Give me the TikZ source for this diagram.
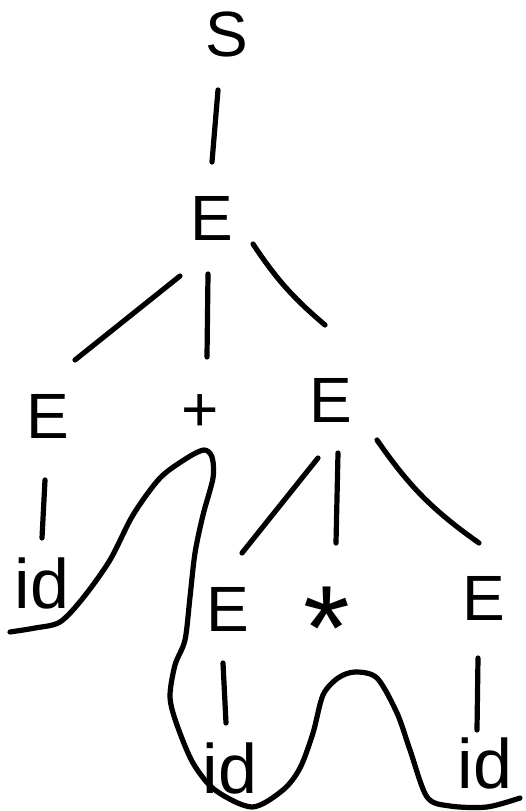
\documentclass[tikz,border=0pt]{standalone}
\usepackage{fontspec}
\setmainfont{Liberation Sans}
\usetikzlibrary{calc}
\tikzset{
  sym/.style={inner sep=0pt, outer sep=0pt, font=\fontsize{64}{64}\selectfont},
  leaf/.style={inner sep=0pt, outer sep=0pt, font=\fontsize{70}{70}\selectfont},
  big/.style={inner sep=0pt, outer sep=0pt, font=\fontsize{120}{120}\selectfont},
  stroke/.style={line width=5.2pt, line cap=round, line join=round, black},
}
\begin{document}
\begin{tikzpicture}[x=1pt, y=-1pt]
\useasboundingbox[fill=white] (0,0) rectangle (526,811);
% nodes
\node[sym] (S) at (227,34) {S};
\node[sym] (E1) at (212,218) {E};
\node[sym] (E2) at (48,416) {E};
\node[sym] (plus) at (200,413) {+};
\node[sym] (E3) at (331,400) {E};
\node[leaf] (id1) at (42,583) {id};
\node[sym] (E4) at (228,609) {E};
\node[big] (star) at (327,628) {*};
\node[sym] (E5) at (484,598) {E};
\node[leaf] (id2) at (230,768) {id};
\node[leaf] (id3) at (485,763) {id};
% tree edges
\draw[stroke] ($(S.center)+(-9,56)$) -- ($(E1.center)+(0,-56)$);
\draw[stroke] ($(E1.center)+(-32,58)$) -- ($(E2.center)+(27,-56)$);
\draw[stroke] ($(E1.center)+(-4,56)$) -- ($(plus.center)+(7,-56)$);
\draw[stroke] ($(E1.center)+(41,26)$) to[bend right=8] ($(E3.center)+(-6,-75)$);
\draw[stroke] ($(E3.center)+(-13,58)$) -- ($(E4.center)+(14,-56)$);
\draw[stroke] ($(E3.center)+(7,53)$) -- ($(star.center)+(9,-85)$);
\draw[stroke] ($(E3.center)+(46,40)$) to[bend right=10] ($(E5.center)+(-5,-55)$);
\draw[stroke] ($(E2.center)+(-3,64)$) -- ($(id1.center)+(0,-45)$);
\draw[stroke] ($(E4.center)+(-5,54)$) -- ($(id2.center)+(-4,-45)$);
\draw[stroke] ($(E5.center)+(-6,60)$) -- ($(id3.center)+(-8,-33)$);
% freehand enclosing curve
\draw[stroke] plot[smooth, tension=0.5] coordinates {
 (10,632) (35,628) (60,622) (83,598) (110,560) (133,515) (160,478) (187,458)
 (204,450) (212,457) (213,478) (203,515) (195,553) (190,597) (185,640) (175,665)
 (170,697) (177,725) (193,763) (215,790) (252,807) (283,790) (300,768) (313,733)
 (323,695) (338,678) (355,672) (377,678) (397,713) (410,750) (427,797) (450,806)
 (487,807) (520,798)};
\end{tikzpicture}
\end{document}
